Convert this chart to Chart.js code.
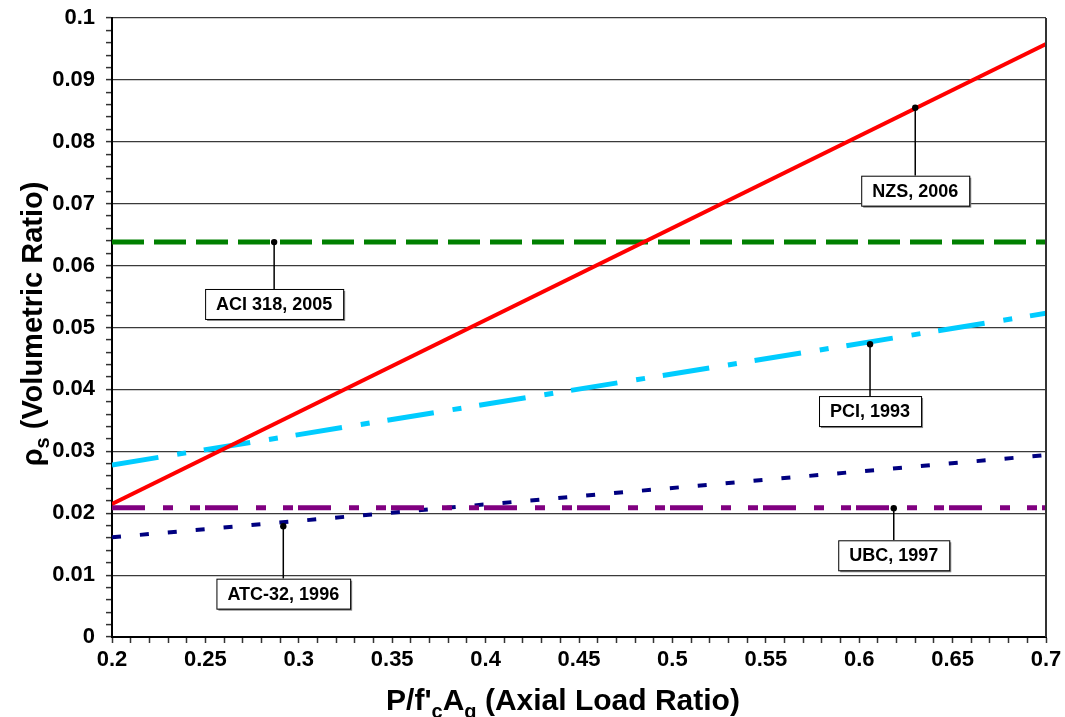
<!DOCTYPE html>
<html>
<head>
<meta charset="utf-8">
<title>Volumetric Ratio vs Axial Load Ratio</title>
<script src="https://cdn.jsdelivr.net/npm/chart.js@4.4.1/dist/chart.umd.min.js"></script>
<style>
  html, body { margin: 0; padding: 0; background: #fff; }
  #wrap { position: relative; width: 1065px; height: 717px; }
</style>
</head>
<body>
<div id="wrap"><canvas id="ratio-chart"></canvas></div>
<script>
// axial load ratio at the two ends of each code line
const axialLoad = [0.2, 0.7];

// required volumetric ratio per code
const nzs2006 = [0.0215, 0.0958];
const aci2005 = [0.0638, 0.0638];
const pci1993 = [0.0278, 0.0523];
const atc1996 = [0.0161, 0.0294];
const ubc1997 = [0.0209, 0.0209];

// callout labels: point on the line and the value where the box sits
const calloutText = ["NZS, 2006", "ACI 318, 2005", "PCI, 1993", "UBC, 1997", "ATC-32, 1996"];
const calloutX = [0.630, 0.2868, 0.6058, 0.6185, 0.2917];
const calloutY = [0.0855, 0.0638, 0.0473, 0.0208, 0.0179];
const calloutBoxY = [0.0721, 0.0538, 0.0365, 0.0132, 0.0070];

const FONT = '"Liberation Sans", Arial, Helvetica, sans-serif';

const toPoints = (ys) => axialLoad.map((x, i) => ({ x: x, y: ys[i] }));

const isMultiple = (v, step) => Math.abs(v / step - Math.round(v / step)) < 1e-6;
const fmt = (v) => (Math.abs(v) < 1e-9 ? "0" : String(Math.round(v * 100) / 100));

// draws a centred line of text where some pieces are subscripts
function drawRichText(ctx, parts, x, y, size) {
  const widths = parts.map((p) => {
    ctx.font = "bold " + (p.sub ? Math.round(size * 0.68) : size) + "px " + FONT;
    return ctx.measureText(p.t).width;
  });
  const total = widths.reduce((a, b) => a + b, 0);
  let cx = x - total / 2;
  ctx.textAlign = "left";
  ctx.textBaseline = "alphabetic";
  parts.forEach((p, i) => {
    ctx.font = "bold " + (p.sub ? Math.round(size * 0.68) : size) + "px " + FONT;
    ctx.fillText(p.t, cx, p.sub ? y + size * 0.25 : y);
    cx += widths[i];
  });
}

const decorations = {
  id: "decorations",
  afterDatasetsDraw(chart) {
    const { ctx, chartArea, scales } = chart;
    ctx.save();

    // right frame edge
    ctx.strokeStyle = "#333";
    ctx.lineWidth = 2;
    ctx.beginPath();
    ctx.moveTo(chartArea.right, chartArea.top);
    ctx.lineTo(chartArea.right, chartArea.bottom);
    ctx.stroke();

    // callouts
    ctx.font = "bold 18px " + FONT;
    calloutText.forEach((label, i) => {
      const px = scales.x.getPixelForValue(calloutX[i]);
      const py = scales.y.getPixelForValue(calloutY[i]);
      const by = scales.y.getPixelForValue(calloutBoxY[i]);
      const w = ctx.measureText(label).width + 22;
      const h = 30;
      const bx = px - w / 2;
      const top = by - h / 2;

      ctx.strokeStyle = "#000";
      ctx.lineWidth = 1.5;
      ctx.beginPath();
      ctx.moveTo(px, py);
      ctx.lineTo(px, top);
      ctx.stroke();

      ctx.fillStyle = "#000";
      ctx.beginPath();
      ctx.arc(px, py, 3.2, 0, Math.PI * 2);
      ctx.fill();

      ctx.fillStyle = "#888";
      ctx.fillRect(bx + 2, top + 2, w, h);
      ctx.fillStyle = "#fff";
      ctx.fillRect(bx, top, w, h);
      ctx.strokeStyle = "#000";
      ctx.lineWidth = 1;
      ctx.strokeRect(bx + 0.5, top + 0.5, w, h);

      ctx.fillStyle = "#000";
      ctx.textAlign = "center";
      ctx.textBaseline = "middle";
      ctx.fillText(label, px, top + h / 2 + 1);
    });
    ctx.restore();
  },
  afterDraw(chart) {
    const { ctx } = chart;
    ctx.save();
    ctx.fillStyle = "#000";

    // x axis title
    drawRichText(ctx, [
      { t: "P/f'" }, { t: "c", sub: true }, { t: "A" }, { t: "g", sub: true },
      { t: " (Axial Load Ratio)" }
    ], 563, 710, 30);

    // y axis title, rotated
    ctx.translate(42, 324);
    ctx.rotate(-Math.PI / 2);
    drawRichText(ctx, [
      { t: "\u03C1" }, { t: "s", sub: true }, { t: " (Volumetric Ratio)" }
    ], 0, 0, 29);
    ctx.restore();
  }
};

const ctx = document.getElementById("ratio-chart").getContext("2d");
new Chart(ctx, {
  type: "line",
  data: {
    datasets: [
      {
        label: "NZS, 2006",
        data: toPoints(nzs2006),
        borderColor: "#ff0000",
        borderWidth: 4
      },
      {
        label: "PCI, 1993",
        data: toPoints(pci1993),
        borderColor: "#00ccff",
        borderWidth: 5,
        borderDash: [47, 19, 9, 18]
      },
      {
        label: "ACI 318, 2005",
        data: toPoints(aci2005),
        borderColor: "#008000",
        borderWidth: 5,
        borderDash: [32, 10]
      },
      {
        label: "UBC, 1997",
        data: toPoints(ubc1997),
        borderColor: "#800080",
        borderWidth: 5,
        borderDash: [33, 18, 10, 17, 10, 5]
      },
      {
        label: "ATC-32, 1996",
        data: toPoints(atc1996),
        borderColor: "#000080",
        borderWidth: 4,
        borderDash: [9, 19]
      }
    ]
  },
  options: {
    responsive: true,
    maintainAspectRatio: false,
    animation: false,
    events: [],
    layout: { padding: { top: 18, right: 19, left: 0, bottom: 0 } },
    elements: {
      point: { radius: 0 },
      line: { tension: 0, fill: false, borderCapStyle: "butt" }
    },
    plugins: {
      legend: { display: false },
      tooltip: { enabled: false }
    },
    scales: {
      x: {
        type: "linear",
        min: 0.2,
        max: 0.7,
        afterFit(scale) {
          scale.height = 80;
          scale.paddingLeft = 0;
          scale.paddingRight = 0;
        },
        ticks: {
          stepSize: 0.01,
          autoSkip: false,
          maxRotation: 0,
          padding: 4,
          color: "#000",
          font: { family: FONT, size: 22, weight: "bold" },
          callback: (v) => (isMultiple(v, 0.05) ? fmt(v) : "")
        },
        grid: {
          drawOnChartArea: false,
          drawTicks: true,
          tickLength: 6,
          tickColor: "#333",
          tickWidth: 1.5
        },
        border: { display: true, color: "#000", width: 2 }
      },
      y: {
        min: 0,
        max: 0.1,
        afterFit(scale) {
          scale.width = 112;
          scale.paddingTop = 0;
          scale.paddingBottom = 0;
        },
        ticks: {
          stepSize: 0.002,
          autoSkip: false,
          maxTicksLimit: 100,
          padding: 11,
          color: "#000",
          font: { family: FONT, size: 22, weight: "bold" },
          callback: (v) => (isMultiple(v, 0.01) ? fmt(v) : "")
        },
        grid: {
          color: (c) => (c.tick && isMultiple(c.tick.value, 0.01) ? "#3a3a3a" : "rgba(0,0,0,0)"),
          lineWidth: 1.2,
          drawTicks: true,
          tickLength: 6,
          tickColor: "#333",
          tickWidth: 1.5
        },
        border: { display: true, color: "#000", width: 2 }
      }
    }
  },
  plugins: [decorations]
});
</script>
</body>
</html>
